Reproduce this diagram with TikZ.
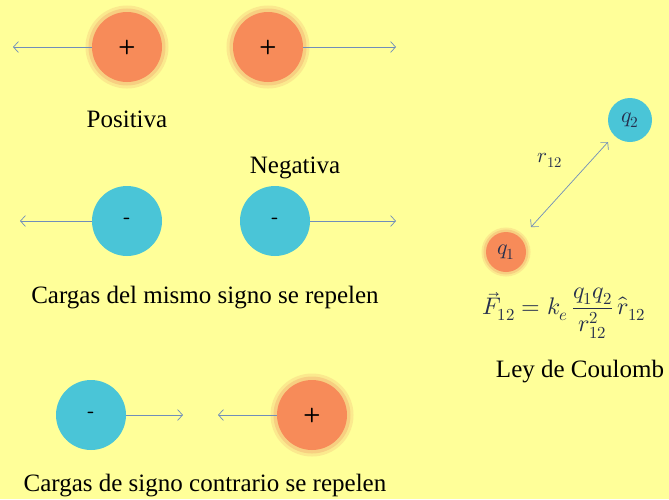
\documentclass[tikz,border=0pt]{standalone}
\usepackage{amsmath}
\usepackage{fontspec}
\usepackage{unicode-math}
\setmainfont{Liberation Serif}
\usetikzlibrary{arrows.meta}

\definecolor{fondo}{RGB}{255,255,153}
\definecolor{naranja}{RGB}{247,139,89}
\definecolor{halo}{RGB}{242,170,110}
\definecolor{cian}{RGB}{74,197,215}
\definecolor{flecha}{RGB}{112,142,186}
\definecolor{tinta}{RGB}{38,48,78}

\tikzset{
  carga/.style={circle, inner sep=0pt, font=\sffamily\fontsize{20}{22}\selectfont\bfseries},
  positiva/.style={carga, fill=naranja, minimum size=70pt,
    preaction={draw=halo, draw opacity=.25, line width=13pt},
    preaction={draw=halo, draw opacity=.4, line width=7pt}},
  negativa/.style={carga, fill=cian, minimum size=70pt},
  fuerza/.style={draw=flecha, line width=0.7pt, -{Straight Barb[length=5pt,width=11pt]}},
  rotulo/.style={font=\fontsize{25}{28}\selectfont}
}

\begin{document}
\begin{tikzpicture}[x=1pt, y=-1pt]

\fill[fondo] (0,0) rectangle (669,499);
\useasboundingbox (0,0) rectangle (669,499);

% cargas positivas
\node[positiva] (p1) at (127,47) {+};
\node[positiva] (p2) at (268,47) {+};
\coordinate (p1f) at (13,47);
\coordinate (p2f) at (396,47);
\draw[fuerza] (p1) -- (p1f);
\draw[fuerza] (p2) -- (p2f);
\node[rotulo] (tpos) at (127,119) {Positiva};

% cargas negativas
\node[rotulo] (tneg) at (295,168) {Negativa};
\node[negativa] (n1) at (127,221) {-};
\node[negativa] (n2) at (275,221) {-};
\coordinate (n1f) at (20,221);
\coordinate (n2f) at (396,221);
\draw[fuerza] (n1) -- (n1f);
\draw[fuerza] (n2) -- (n2f);
\node[rotulo] (tmismo) at (205,298) {Cargas del mismo signo se repelen};

% signos contrarios
\node[negativa] (n3) at (91,415) {-};
\node[positiva] (p3) at (312,415) {+};
\coordinate (n3f) at (183,415);
\coordinate (p3f) at (218,415);
\draw[fuerza] (n3) -- (n3f);
\draw[fuerza] (p3) -- (p3f);
\node[rotulo] (tcontra) at (205,486) {Cargas de signo contrario se repelen};

% ley de Coulomb
\node[carga, fill=cian, minimum size=44pt, font=\fontsize{22}{24}\selectfont, text=tinta] (q2) at (630,120) {$q_2$};
\node[carga, fill=naranja, minimum size=40pt, font=\fontsize{22}{24}\selectfont, text=tinta,
  preaction={draw=halo, draw opacity=.25, line width=9pt},
  preaction={draw=halo, draw opacity=.4, line width=5pt}] (q1) at (506,252) {$q_1$};
\coordinate (a1) at (531,227);
\coordinate (a2) at (608,142);
\draw[fuerza, {Straight Barb[length=5pt,width=11pt]}-{Straight Barb[length=5pt,width=11pt]}] (a1) -- (a2);
\node[text=tinta, font=\fontsize{21}{24}\selectfont] (r12) at (550,160) {$r_{12}$};
\node[text=tinta, font=\fontsize{24}{28}\selectfont] (ley) at (564,313)
  {$\vec{F}_{12} = k_e\,\dfrac{q_1 q_2}{r_{12}^2}\,\hat{r}_{12}$};
\node[rotulo] (tley) at (580,372) {Ley de Coulomb};

\end{tikzpicture}
\end{document}
